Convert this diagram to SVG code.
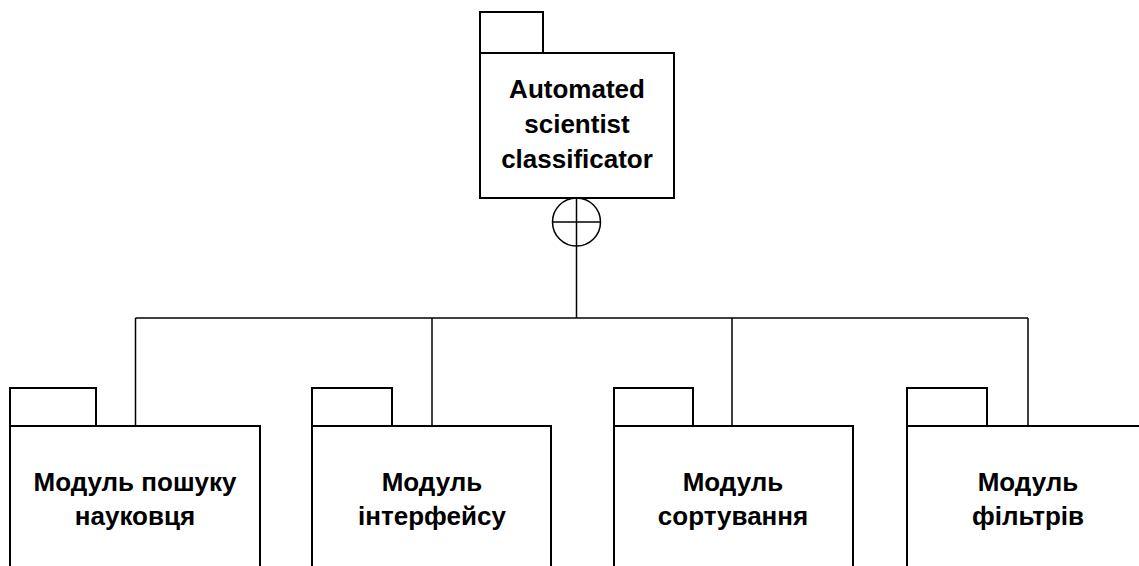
<svg xmlns="http://www.w3.org/2000/svg" width="1139" height="566" viewBox="0 0 1139 566">
<style>
.pk{fill:#fff;stroke:#000;stroke-width:2}
.cn{fill:none;stroke:#000;stroke-width:1.5}
.t{font-family:"Liberation Sans",Arial,sans-serif;font-weight:bold;font-size:26px;text-anchor:middle;fill:#000}
</style>
<rect width="1139" height="566" fill="#fff"/>
<g id="connectors">
<line class="cn" x1="576.5" y1="246" x2="576.5" y2="318"/>
<line class="cn" x1="135.5" y1="318" x2="1028" y2="318"/>
<line class="cn" x1="135.5" y1="318" x2="135.5" y2="426"/>
<line class="cn" x1="432" y1="318" x2="432" y2="426"/>
<line class="cn" x1="732" y1="318" x2="732" y2="426"/>
<line class="cn" x1="1028" y1="318" x2="1028" y2="426"/>
<circle class="cn" cx="576.5" cy="222" r="24"/>
<line class="cn" x1="552.5" y1="222" x2="600.5" y2="222"/>
<line class="cn" x1="576.5" y1="198" x2="576.5" y2="246"/>
</g>
<g id="root">
<rect class="pk" x="480" y="12" width="63" height="41"/>
<rect class="pk" x="480" y="53" width="194" height="145"/>
<text class="t" x="577" y="98">Automated</text>
<text class="t" x="577" y="133">scientist</text>
<text class="t" x="577" y="168">classificator</text>
</g>
<g id="m1">
<rect class="pk" x="10" y="388" width="86" height="38"/>
<rect class="pk" x="10" y="426" width="250" height="160"/>
<text class="t" x="135" y="491">Модуль пошуку</text>
<text class="t" x="135" y="525">науковця</text>
</g>
<g id="m2">
<rect class="pk" x="312" y="388" width="80" height="38"/>
<rect class="pk" x="312" y="426" width="239" height="160"/>
<text class="t" x="432" y="491">Модуль</text>
<text class="t" x="432" y="525">інтерфейсу</text>
</g>
<g id="m3">
<rect class="pk" x="614" y="388" width="79" height="38"/>
<rect class="pk" x="614" y="426" width="239" height="160"/>
<text class="t" x="733" y="491">Модуль</text>
<text class="t" x="733" y="525">сортування</text>
</g>
<g id="m4">
<rect class="pk" x="907" y="388" width="80" height="38"/>
<rect class="pk" x="907" y="426" width="242" height="160"/>
<text class="t" x="1028" y="491">Модуль</text>
<text class="t" x="1028" y="525">фільтрів</text>
</g>
</svg>
